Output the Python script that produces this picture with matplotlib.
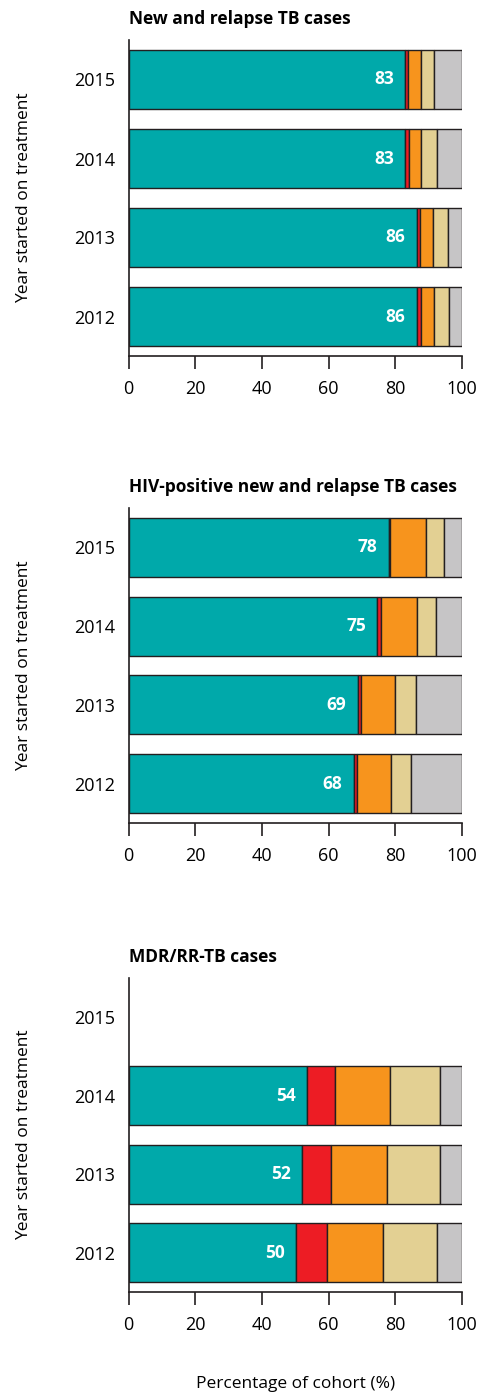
import numpy as np
import matplotlib
matplotlib.use('Agg')
import matplotlib.pyplot as plt

plt.rcParams['font.family'] = ['Open Sans', 'DejaVu Sans']

years = ['2015', '2014', '2013', '2012']
titles = ['New and relapse TB cases',
          'HIV-positive new and relapse TB cases',
          'MDR/RR-TB cases']

# outcome shares (%) per year, one list per panel
success = [[83.0, 83.0, 86.4, 86.4],
           [78.0, 74.6, 68.7, 67.5],
           [np.nan, 53.6, 52.0, 50.1]]
failed = [[0.9, 1.0, 1.1, 1.2],
          [0.5, 1.1, 1.1, 1.0],
          [np.nan, 8.2, 8.6, 9.3]]
died = [[3.8, 3.7, 3.9, 4.1],
        [10.6, 10.7, 10.2, 10.2],
        [np.nan, 16.6, 17.0, 16.8]]
lost = [[4.0, 4.9, 4.5, 4.5],
        [5.6, 5.9, 6.2, 5.9],
        [np.nan, 14.9, 15.7, 16.4]]
not_eval = [[8.3, 7.4, 4.1, 3.8],
            [5.3, 7.7, 13.8, 15.4],
            [np.nan, 6.7, 6.7, 7.4]]

colors = ['#00A9AA', '#ED1C24', '#F7941D', '#E3D093', '#C6C5C6']
edge = '#231F20'

W, H = 481, 1394
fig = plt.figure(figsize=(W / 100, H / 100), dpi=100)

# axes boxes in pixels: (top, bottom)
boxes = [(40, 356), (508, 823), (978, 1292)]
left, right = 128.7, 462

for i, (top, bot) in enumerate(boxes):
    ax = fig.add_axes([left / W, 1 - bot / H, (right - left) / W, (bot - top) / H])
    y = np.arange(len(years))
    parts = [success[i], failed[i], died[i], lost[i], not_eval[i]]
    start = np.zeros(len(years))
    for vals, c in zip(parts, colors):
        v = np.array(vals, dtype=float)
        ok = ~np.isnan(v)
        ax.barh(y[ok], v[ok], left=start[ok], height=0.75, color=c,
                edgecolor=edge, linewidth=1.0)
        start[ok] += v[ok]
    for yy, v in zip(y, success[i]):
        if np.isnan(v):
            continue
        ax.annotate(f'{round(v)}', xy=(v, yy), xytext=(-8, 0),
                    textcoords='offset points', ha='right', va='center',
                    color='white', fontweight='bold', fontsize=12.5)
    ax.set_xlim(0, 100)
    ax.set_ylim(len(years) - 0.5, -0.5)
    ax.set_yticks(y)
    ax.set_yticklabels(years)
    ax.set_xticks([0, 20, 40, 60, 80, 100])
    ax.tick_params(axis='y', length=0, pad=10, labelsize=13)
    ax.tick_params(axis='x', length=9.5, width=1.2, pad=8, labelsize=13,
                   direction='out', color=edge)
    for s in ['top', 'right']:
        ax.spines[s].set_visible(False)
    for s in ['left', 'bottom']:
        ax.spines[s].set_linewidth(1.2)
        ax.spines[s].set_color(edge)
    ax.set_ylabel('Year started on treatment', fontsize=12.5)
    ax.yaxis.set_label_coords(-0.29, 0.5)
    ax.text(0, 1 + 16 / (bot - top), titles[i], transform=ax.transAxes,
            ha='left', va='baseline', fontweight='bold', fontsize=12.5)
    if i == 2:
        ax.set_xlabel('Percentage of cohort (%)', fontsize=12.5, labelpad=30)

fig.savefig('out.png', dpi=100)
